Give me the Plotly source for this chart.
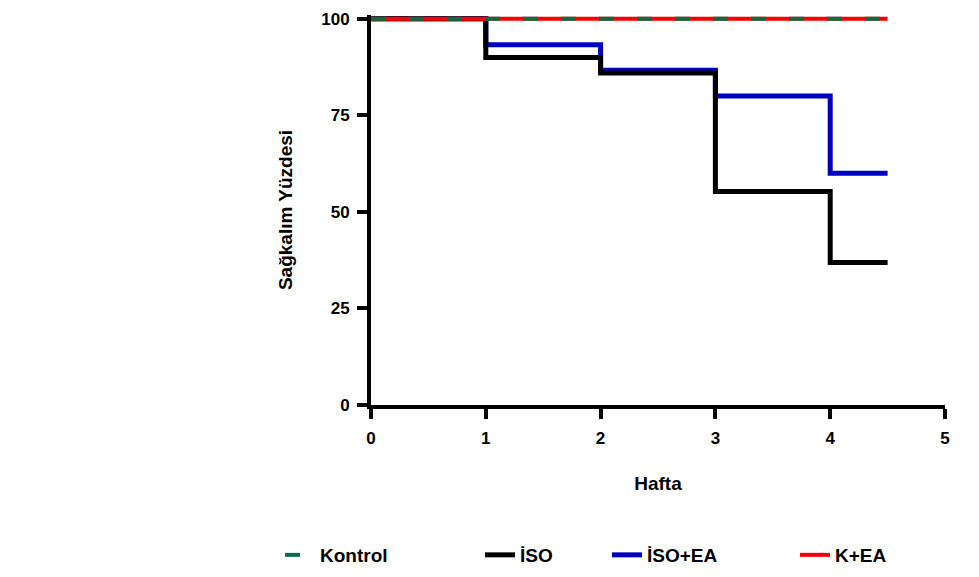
import plotly.graph_objects as go

weeks = [0, 1, 2, 3, 4, 4.5]
kontrol = [100, 100, 100, 100, 100, 100]
iso = [100, 90.0, 86.0, 55.3, 36.9, 36.9]
iso_ea = [100, 93.3, 86.7, 80.0, 60.0, 60.0]
k_ea = [100, 100, 100, 100, 100, 100]

x_ticks = [0, 1, 2, 3, 4, 5]
y_ticks = [0, 25, 50, 75, 100]

GREEN = "#0A6B47"
BLUE = "#0000C0"
RED = "#FF0000"
BLACK = "#000000"
FONT = "Liberation Sans"

W, H = 971, 569  # page body has an 8px margin

fig = go.Figure()
# drawing order: blue, black over it, red, green dashed on top
fig.add_trace(go.Scatter(x=weeks, y=iso_ea, name="İSO+EA", mode="lines", line_shape="hv",
                         line=dict(color=BLUE, width=5), legend="legend3"))
fig.add_trace(go.Scatter(x=weeks, y=iso, name="İSO", mode="lines", line_shape="hv",
                         line=dict(color=BLACK, width=5), legend="legend2"))
fig.add_trace(go.Scatter(x=weeks, y=k_ea, name="K+EA", mode="lines", line_shape="hv",
                         line=dict(color=RED, width=4), legend="legend4"))
fig.add_trace(go.Scatter(x=weeks, y=kontrol, name="Kontrol", mode="lines", line_shape="hv",
                         line=dict(color=GREEN, width=4, dash="15px,23px"), legend="legend"))

legfont = dict(family=FONT, size=19, color="black", weight="bold")
def leg(x):
    return dict(x=x / W, y=(H - 547) / H, xref="container", yref="container", xanchor="left",
                yanchor="middle", orientation="h", font=legfont, bgcolor="rgba(0,0,0,0)")

fig.update_layout(
    width=W, height=H,
    margin=dict(l=363, r=34, t=7, b=172, autoexpand=False),
    plot_bgcolor="white", paper_bgcolor="white",
    showlegend=True,
    legend=leg(272),
    legend2=leg(472),
    legend3=leg(599),
    legend4=leg(787),
    xaxis=dict(range=[0, 5], tickvals=x_ticks, ticktext=[str(v) for v in x_ticks],
               showgrid=False, zeroline=False, showline=True, linecolor="black", linewidth=4,
               ticks="outside", ticklen=10, tickwidth=4, tickcolor="black", ticklabelstandoff=5,
               tickfont=dict(family=FONT, size=17, color="black", weight="bold"),
               title=dict(text="Hafta", standoff=30,
                          font=dict(family=FONT, size=19, color="black", weight="bold"))),
    yaxis=dict(range=[0, 101], tickvals=y_ticks, ticktext=[str(v) for v in y_ticks],
               showgrid=False, zeroline=False, showline=True, linecolor="black", linewidth=4,
               ticks="outside", ticklen=10, tickwidth=4, tickcolor="black", ticklabelstandoff=4,
               tickfont=dict(family=FONT, size=17, color="black", weight="bold"),
               title=dict(text="Sağkalım Yüzdesi", standoff=25,
                          font=dict(family=FONT, size=19, color="black", weight="bold"))),
)

fig.write_html("out.html")
